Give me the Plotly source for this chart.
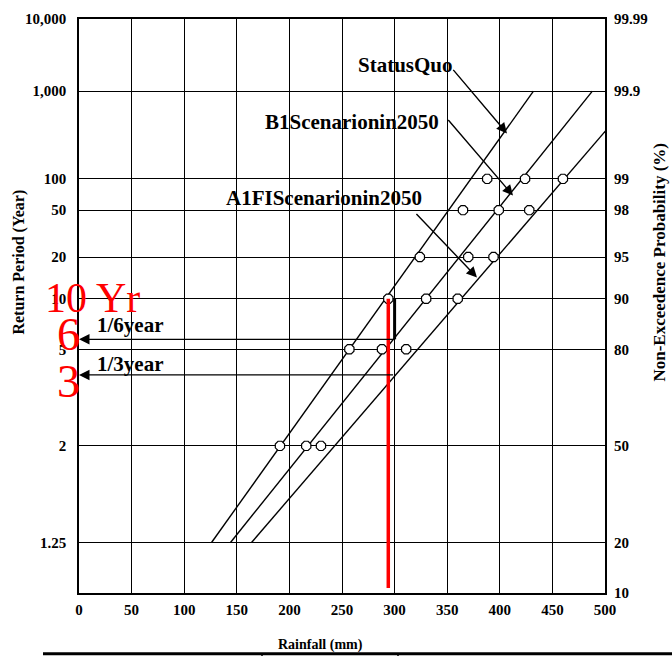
import plotly.graph_objects as go
from statistics import NormalDist

# ---------------- data ----------------
point_return_periods = [2, 5, 10, 20, 50, 100]
statusquo_points = [191, 257, 294, 324, 365, 388]
b1_points = [216, 288, 330, 370, 399, 424]
a1fi_points = [230, 311, 360, 394, 428, 460]

line_return_periods = [1.25, 1000]
statusquo_line = [126, 432]
b1_line = [144, 488]
a1fi_line = [164, 533]

left_tick_periods = [10000, 1000, 100, 50, 20, 10, 5, 2, 1.25]
left_tick_text = ["10,000", "1,000", "100", "50", "20", "10", "5", "2", "1.25"]
right_tick_probs = [99.99, 99.9, 99, 98, 95, 90, 80, 50, 20, 10]
right_tick_text = ["99.99", "99.9", "99", "98", "95", "90", "80", "50", "20", "10"]

design_rainfall = 294          # red line (mm)
design_period = 10             # 10 Yr
red_line_bottom_prob = 10.8    # % (bottom end of red line)
arrow_rainfall = 300
arrow_periods = [5.66, 3.73]   # 1/6year, 1/3year levels

# ---------------- helpers ----------------
N = NormalDist()
def zT(T):
    return N.inv_cdf(1 - 1 / T)
def zF(p):
    return N.inv_cdf(p / 100)

FONT = "Liberation Serif"
PL, PR, PT, PB = 79, 605, 11, 593
W, H = 672, 656
def pp(xp, yp):
    return (xp - PL) / (PR - PL), (PB - yp) / (PB - PT)

yrange = [zF(10), zF(99.99)]

fig = go.Figure()

for vals in (statusquo_line, b1_line, a1fi_line):
    fig.add_trace(go.Scatter(x=vals, y=[zT(t) for t in line_return_periods],
                             mode="lines", line=dict(color="black", width=1.4),
                             showlegend=False, hoverinfo="skip"))

for vals in (statusquo_points, b1_points, a1fi_points):
    fig.add_trace(go.Scatter(x=vals, y=[zT(t) for t in point_return_periods],
                             mode="markers",
                             marker=dict(symbol="octagon", size=10, color="white",
                                         line=dict(color="black", width=1.2)),
                             showlegend=False, hoverinfo="skip"))

# thick black segment on 300 line
fig.add_trace(go.Scatter(x=[arrow_rainfall, arrow_rainfall],
                         y=[zT(design_period), zT(arrow_periods[0])],
                         mode="lines", line=dict(color="black", width=3),
                         showlegend=False, hoverinfo="skip"))
# red vertical design line
fig.add_trace(go.Scatter(x=[design_rainfall, design_rainfall],
                         y=[zT(design_period), zF(red_line_bottom_prob)],
                         mode="lines", line=dict(color="#ff0000", width=3.5),
                         showlegend=False, hoverinfo="skip"))

# dummy trace for right axis
fig.add_trace(go.Scatter(x=[None], y=[None], yaxis="y2", showlegend=False,
                         hoverinfo="skip"))

tickfont = dict(family=FONT, size=15, color="black", weight="bold")

fig.update_layout(
    width=W, height=H,
    margin=dict(l=PL, r=W - PR, t=PT, b=H - PB),
    paper_bgcolor="white", plot_bgcolor="white",
    xaxis=dict(range=[0, 500], dtick=50, tick0=0, showgrid=True,
               gridcolor="black", gridwidth=1.4, zeroline=False,
               showline=True, linecolor="black", linewidth=1.6, mirror=True,
               ticks="", tickfont=tickfont, ticklabelstandoff=2),
    yaxis=dict(range=yrange, tickvals=[zT(t) for t in left_tick_periods],
               ticktext=left_tick_text, showgrid=True, gridcolor="black",
               gridwidth=1.4, zeroline=False, showline=True, linecolor="black",
               linewidth=1.6, mirror=True, ticks="", tickfont=tickfont,
               ticklabelstandoff=8),
    yaxis2=dict(range=yrange, overlaying="y", side="right", anchor="x",
                tickvals=[zF(p) for p in right_tick_probs],
                ticktext=right_tick_text, showgrid=False, zeroline=False,
                showline=False, ticks="", tickfont=tickfont,
                ticklabelstandoff=8),
)

ann = []
def text(s, xp, yp, size, color="black", bold=True, angle=0, family=FONT):
    x, y = pp(xp, yp)
    ann.append(dict(text=s, x=x, y=y, xref="paper", yref="paper",
                    xanchor="center", yanchor="middle", showarrow=False,
                    textangle=angle,
                    font=dict(family=family, size=size, color=color,
                              weight="bold" if bold else "normal")))

def arrow_px(tail, head):
    x, y = pp(*head)
    ann.append(dict(text="", x=x, y=y, xref="paper", yref="paper",
                    ax=tail[0] - head[0], ay=tail[1] - head[1],
                    showarrow=True, arrowhead=2, arrowsize=1.5, arrowwidth=1.4,
                    arrowcolor="black", standoff=0, startstandoff=0))

text("StatusQuo", 405, 58, 21)
text("B1Scenarionin2050", 352, 115, 21)
text("A1FIScenarionin2050", 324, 193, 21)
arrow_px((452, 62), (507, 127))
arrow_px((447, 113), (513, 190))
arrow_px((415, 208), (477, 273))

for T in arrow_periods:
    ann.append(dict(text="", x=0, y=zT(T), xref="x", yref="y",
                    ax=arrow_rainfall, ay=zT(T), axref="x", ayref="y",
                    showarrow=True, arrowhead=2, arrowsize=1.5, arrowwidth=1.4,
                    arrowcolor="black", standoff=0, startstandoff=0))

text("1/6year", 130, 321, 21)
text("1/3year", 130, 361, 21)

text("10 Yr", 92, 294, 42, color="#ff0000", bold=False)
text("6", 68, 331, 46, color="#ff0000", bold=False)
text("3", 68, 379, 46, color="#ff0000", bold=False)

text("Return Period (Year)", 19, 258, 16, angle=-90)
text("Non-Exceedence Probability (%)", 660, 258, 17, angle=-90)
text("Rainfall (mm)", 320, 646, 14)

fig.update_layout(annotations=ann)

# table border at bottom
y0 = pp(0, 654.5)[1]
fig.add_shape(type="line", xref="paper", yref="paper",
              x0=pp(43, 0)[0], x1=pp(672, 0)[0], y0=y0, y1=y0,
              line=dict(color="black", width=3))
for xp in (262, 398):
    fig.add_shape(type="line", xref="paper", yref="paper",
                  x0=pp(xp, 0)[0], x1=pp(xp, 0)[0],
                  y0=pp(0, 654)[1], y1=pp(0, 657)[1],
                  line=dict(color="black", width=1.5))

fig.write_html("out.html")
